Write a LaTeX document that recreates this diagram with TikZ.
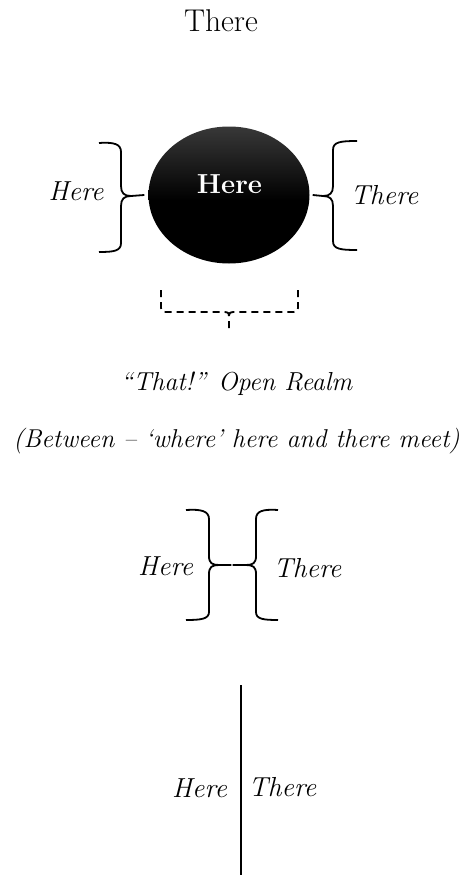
\documentclass[tikz,border=0pt]{standalone}
\usepackage{fontspec}
\usetikzlibrary{shapes.geometric}
\pgfdeclareverticalshading{ellsh}{100bp}{color(0bp)=(black); color(25bp)=(black); color(48bp)=(black); color(75bp)=(black!78); color(100bp)=(black!78)}
\begin{document}
\begin{tikzpicture}[x=1pt,y=-1pt,
  bracepath/.style={line width=1.8pt},
  lab/.style={font=\fontsize{27.5}{32}\selectfont\itshape, inner sep=0pt, anchor=base},
  dashbr/.style={line width=1.8pt, dash pattern=on 7pt off 5pt}]
\useasboundingbox (0,0) rectangle (464,875);
% title
\node[anchor=base, inner sep=0pt, font=\fontsize{31.5}{36}\selectfont] (title) at (221,32) {There};
% ellipse
\node[ellipse, minimum width=161pt, minimum height=137pt, inner sep=0pt,
      shading=ellsh] (ell) at (229,195) {};
\node[anchor=base, inner sep=0pt, text=white, font=\fontsize{27.5}{32}\selectfont\bfseries] (hc) at (229.5,193) {Here};
% left brace
\coordinate (lt) at ([xshift=-4pt]ell.west);
\draw[bracepath] (99,143) .. controls (114,142) and (121,144) .. (121,152) -- (121,186)
   .. controls (121,193) and (124,196) .. (131,196) -- (lt);
\draw[bracepath] (131,196) .. controls (124,196) and (121,199) .. (121,206) -- (121,243)
   .. controls (121,251) and (114,252) .. (99,252);
\node[lab] (lhere) at (76,200) {Here};
% right brace
\coordinate (rt) at ([xshift=3pt]ell.east);
\draw[bracepath] (357,141) .. controls (340,141) and (333,142) .. (333,150) -- (333,186)
   .. controls (333,193) and (330,196) .. (323,196) -- (rt);
\draw[bracepath] (323,196) .. controls (330,196) and (333,199) .. (333,206) -- (333,241)
   .. controls (333,249) and (340,250) .. (357,250);
\node[lab] (rthere) at (384.5,204) {There};
% dashed bracket
\coordinate (db) at (229,332);
\draw[dashbr] (161,290) -- (161,308) .. controls (161,311) and (162,312) .. (166,312) -- (224,312)
   .. controls (228,312) and (229,313) .. (229,317) -- (db);
\draw[dashbr] (298,290) -- (298,308) .. controls (298,311) and (297,312) .. (293,312) -- (234,312)
   .. controls (230,312) and (229,313) .. (229,317);
\node[lab, font=\fontsize{26}{32}\selectfont\itshape] (realm) at (236.5,390) {``That!'' Open Realm};
\node[lab, font=\fontsize{25.8}{32}\selectfont\itshape] (between) at (236.5,447) {(Between -- `where' here and there meet)};
% double braces
\coordinate (m) at (232,565);
\draw[bracepath] (186,510) .. controls (201,509) and (209,511) .. (209,519) -- (209,556)
   .. controls (209,563) and (212,565) .. (219,565) -- ([xshift=-0.6pt]m);
\draw[bracepath] (219,565) .. controls (212,565) and (209,567) .. (209,574) -- (209,612)
   .. controls (209,619) and (201,620) .. (186,620);
\draw[bracepath] (278,510) .. controls (263,509) and (256,511) .. (256,519) -- (256,556)
   .. controls (256,563) and (253,565) .. (246,565) -- ([xshift=0.6pt]m);
\draw[bracepath] (246,565) .. controls (253,565) and (256,567) .. (256,574) -- (256,612)
   .. controls (256,619) and (263,620) .. (278,620);
\node[lab] (mhere) at (165.5,575) {Here};
\node[lab] (mthere) at (307.5,577) {There};
% vertical line
\coordinate (vt) at (241,685);
\coordinate (vb) at (241,875);
\draw[line width=1.8pt] (vt) -- (vb);
\node[lab] (bhere) at (199.5,797) {Here};
\node[lab] (bthere) at (282.5,796) {There};
\end{tikzpicture}
\end{document}
